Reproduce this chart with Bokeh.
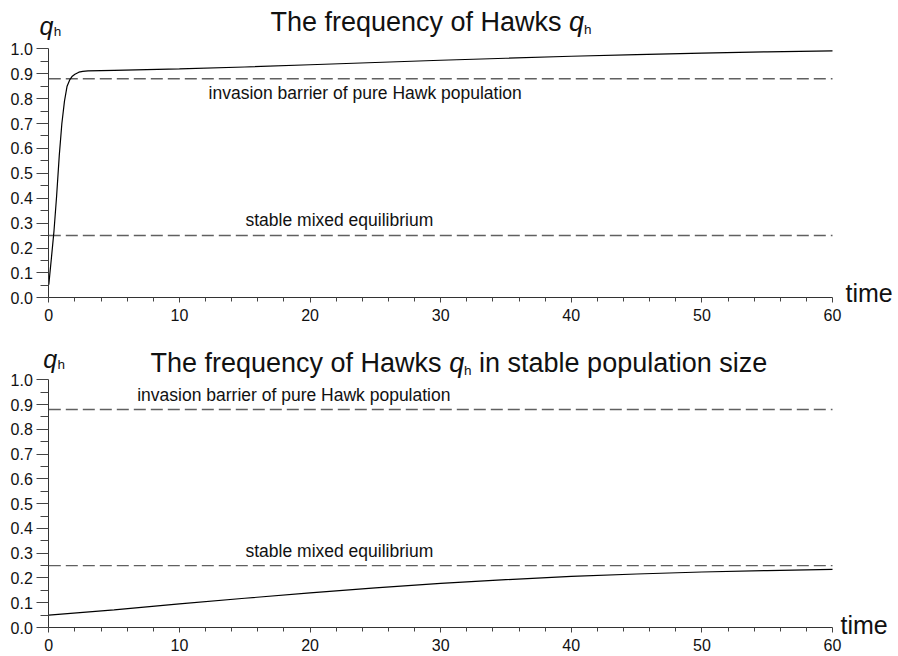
from bokeh.plotting import figure
from bokeh.layouts import column
from bokeh.models import Range1d, FixedTicker, PrintfTickFormatter, Label, LinearAxis
from bokeh.embed import file_html
from bokeh.resources import INLINE

# ---------------- data ----------------
t_top = [0, 0.2, 0.4, 0.6, 0.8, 1.0, 1.2, 1.4, 1.6, 1.8, 2.0, 2.3, 2.6, 3.0,
         4, 5, 7.5, 10, 15, 20, 25, 30, 35, 40, 45, 50, 55, 60]
q_top = [0.053, 0.16, 0.27, 0.41, 0.57, 0.70, 0.79, 0.85, 0.875, 0.89, 0.898,
         0.906, 0.909, 0.911, 0.912, 0.913, 0.916, 0.919, 0.927, 0.936, 0.945,
         0.954, 0.962, 0.970, 0.977, 0.983, 0.988, 0.992]

t_bottom = [0, 5, 10, 15, 20, 25, 30, 35, 40, 45, 50, 55, 60]
q_bottom = [0.05, 0.071, 0.095, 0.118, 0.140, 0.160, 0.178, 0.193, 0.206,
            0.216, 0.224, 0.230, 0.235]

invasion_barrier = 0.88
mixed_equilibrium = 0.25

x_major = [0, 10, 20, 30, 40, 50, 60]
x_minor = [v for v in range(0, 61, 2) if v % 10]
y_major = [0.0, 0.1, 0.2, 0.3, 0.4, 0.5, 0.6, 0.7, 0.8, 0.9, 1.0]
y_minor = [0.05, 0.15, 0.25, 0.35, 0.45, 0.55, 0.65, 0.75, 0.85, 0.95]

title_top = "The frequency of Hawks"
title_bottom_tail = "in stable population size"
barrier_text = "invasion barrier of pure Hawk population"
equilibrium_text = "stable mixed equilibrium"
x_label = "time"

FONT = "Liberation Sans"
TXT = "#111111"
FIG_W = 898
# pixel layout of the axes box inside each figure
AX_LEFT, AX_RIGHT = 48.3, 832.0
TEXT_LIFT_PX = 6.0


def make_fig(height, ax_top, ax_bottom):
    """Figure whose frame fills it; the axes sit at data 0 (fixed_location)."""
    sx = (AX_RIGHT - AX_LEFT) / (x_major[-1] - x_major[0])
    sy = (ax_bottom - ax_top) / (y_major[-1] - y_major[0])
    x_rng = Range1d(x_major[0] - AX_LEFT / sx,
                    x_major[-1] + (FIG_W - AX_RIGHT) / sx)
    y_rng = Range1d(y_major[0] - (height - ax_bottom) / sy,
                    y_major[-1] + ax_top / sy)
    p = figure(width=FIG_W, height=height, x_range=x_rng, y_range=y_rng,
               x_axis_type=None, y_axis_type=None,
               output_backend="svg", toolbar_location=None,
               min_border=0, min_border_left=0, min_border_right=0,
               min_border_top=0, min_border_bottom=0)
    p.outline_line_color = None
    p.background_fill_color = "white"
    p.border_fill_color = "white"

    xa = LinearAxis(fixed_location=y_major[0],
                    bounds=(x_major[0], x_major[-1]),
                    ticker=FixedTicker(ticks=x_major, minor_ticks=x_minor))
    xa.axis_line_color = "#333333"
    xa.major_tick_line_color = "#444444"
    xa.minor_tick_line_color = "#444444"
    xa.major_tick_in = 0
    xa.major_tick_out = 5
    xa.minor_tick_in = 0
    xa.minor_tick_out = 4
    xa.major_label_standoff = 6
    xa.major_label_text_font = FONT
    xa.major_label_text_font_size = "16px"
    xa.major_label_text_color = TXT
    p.add_layout(xa, "below")

    ya = LinearAxis(fixed_location=x_major[0],
                    bounds=(y_major[0], y_major[-1]),
                    ticker=FixedTicker(ticks=y_major, minor_ticks=y_minor),
                    formatter=PrintfTickFormatter(format="%.1f"))
    ya.axis_line_color = "#333333"
    ya.major_tick_line_color = "#444444"
    ya.minor_tick_line_color = "#444444"
    ya.major_tick_in = 0
    ya.major_tick_out = 12
    ya.minor_tick_in = 0
    ya.minor_tick_out = 8
    ya.major_label_standoff = 4
    ya.major_label_text_font = FONT
    ya.major_label_text_font_size = "16px"
    ya.major_label_text_color = TXT
    p.add_layout(ya, "left")

    for level in (invasion_barrier, mixed_equilibrium):
        p.line([x_major[0], x_major[-1]], [level, level],
               line_color="#606060", line_width=1.4, line_dash="12 5")
    return p, sy


def add_text(p, sy, x, y, text, size, style="normal"):
    p.add_layout(Label(x=x, y=y + TEXT_LIFT_PX / sy, text=text, text_font=FONT,
                       text_font_size=f"{size}px", text_font_style=style,
                       text_color=TXT, text_baseline="alphabetic",
                       text_align="left"))


# ---------------- top panel ----------------
p1, s1 = make_fig(331, 48.3, 297.3)
p1.line(t_top, q_top, line_color="black", line_width=1.2)

add_text(p1, s1, 16.97, 1.0855, title_top, 27)
add_text(p1, s1, 39.83, 1.0855, "q", 27, "italic")
add_text(p1, s1, 40.98, 1.0554, "h", 13.5)
add_text(p1, s1, -0.71, 1.0655, "q", 25, "italic")
add_text(p1, s1, 0.38, 1.045, "h", 13.5)
add_text(p1, s1, 60.99, -0.003, x_label, 25)
add_text(p1, s1, 12.23, 0.80, barrier_text, 17.5)
add_text(p1, s1, 15.06, 0.289, equilibrium_text, 17.5)

# ---------------- bottom panel ----------------
p2, s2 = make_fig(325, 379.3 - 331, 627 - 331)
p2.line(t_bottom, q_bottom, line_color="black", line_width=1.2)

add_text(p2, s2, 7.78, 1.0456, title_top, 27)
add_text(p2, s2, 30.65, 1.0456, "q", 27, "italic")
add_text(p2, s2, 31.79, 1.0153, "h", 13.5)
add_text(p2, s2, 32.94, 1.0456, title_bottom_tail, 27)
add_text(p2, s2, -0.43, 1.058, "q", 25, "italic")
add_text(p2, s2, 0.66, 1.0375, "h", 13.5)
add_text(p2, s2, 60.61, -0.015, x_label, 25)
add_text(p2, s2, 6.77, 0.9164, barrier_text, 17.5)
add_text(p2, s2, 15.06, 0.2838, equilibrium_text, 17.5)

layout = column(p1, p2, spacing=0)

open("out.html", "w").write(file_html(layout, INLINE))
